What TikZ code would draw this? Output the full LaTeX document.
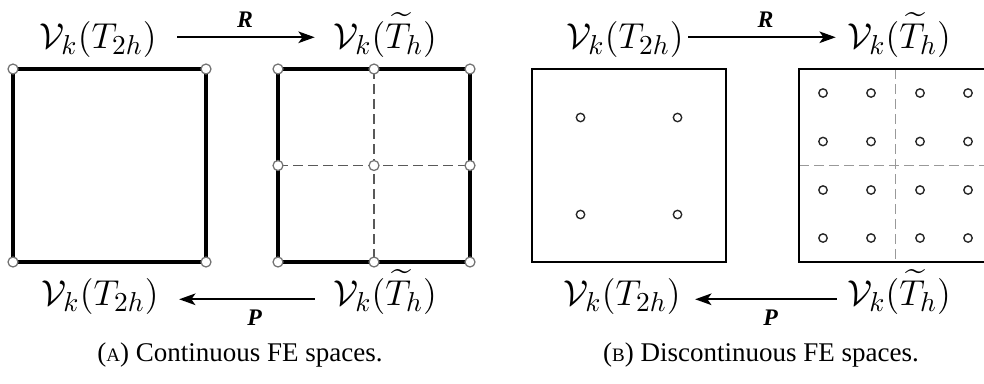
\documentclass[tikz,border=0pt]{standalone}
\usepackage{amsmath}
\usepackage{fontspec}
\setmainfont{Liberation Serif}
\usetikzlibrary{arrows.meta}
\newcommand{\mysc}[1]{{\fontsize{7.6}{9}\selectfont #1}}
\begin{document}
\begin{tikzpicture}[x=0.4pt,y=-0.4pt,
  space/.style={inner sep=0pt, anchor=base, font=\fontsize{15}{17}\selectfont},
  maparrow/.style={line width=0.95pt, -{Stealth[length=6.5pt,width=4.6pt,inset=1.6pt]}},
  maplabel/.style={inner sep=0pt, font=\fontsize{9.5}{11}\selectfont\bfseries\itshape},
  borderA/.style={line width=1.3pt, line cap=round},
  borderB/.style={line width=1.15pt},
  gridA/.style={line width=0.45pt, black!65, dash pattern=on 4pt off 2pt},
  gridB/.style={line width=0.45pt, black!40, dash pattern=on 4pt off 2pt},
  vertexA/.style={draw=black!55, fill=white, line width=0.5pt},
  dofB/.style={draw=black!85, fill=white, line width=0.55pt},
  caption/.style={inner sep=0pt, font=\fontsize{10.8}{12}\selectfont}]
\useasboundingbox (0,0) rectangle (984,383);

% ---------------- Panel A ----------------
\draw[borderA] (13,69) rectangle (206,262);
\draw[gridA] (374,69) -- (374,262);
\draw[gridA] (278,165.5) -- (470,165.5);
\draw[borderA] (278,69) rectangle (470,262);
\foreach \x/\y in {13/69,206/69,13/262,206/262}
  \draw[vertexA] (\x,\y) circle[radius=5];
\foreach \x in {278,374,470}
  \foreach \y in {69,165.5,262}
    \draw[vertexA] (\x,\y) circle[radius=5];

\node[space] (a1) at (98,48) {$\mathcal{V}_k(T_{2h})$};
\node[space] (a2) at (385,48) {$\mathcal{V}_k(\widetilde{T}_h)$};
\node[space] (a3) at (100,305) {$\mathcal{V}_k(T_{2h})$};
\node[space] (a4) at (385,305) {$\mathcal{V}_k(\widetilde{T}_h)$};

\draw[maparrow, shorten <=8pt, shorten >=7.2pt]
  ([yshift=2pt]a1.mid east) -- ([yshift=2pt]a1.mid east -| a2.west)
  node[maplabel, midway, yshift=7.2pt] (lR1) {R};
\draw[maparrow, shorten <=7.2pt, shorten >=8pt]
  (a4.mid west) -- (a4.mid west -| a3.east)
  node[maplabel, pos=0.45, yshift=-7.2pt] (lP1) {P};

\node[caption] (capA) at (240,355) {(\mysc{A}) Continuous FE spaces.};

% ---------------- Panel B ----------------
\draw[borderB] (532,69) rectangle (726,262);
\foreach \x in {580.5,677.5}
  \foreach \y in {117.5,214.5}
    \draw[dofB] (\x,\y) circle[radius=4.2];

\draw[gridB] (895.5,69) -- (895.5,262);
\draw[gridB] (799,165.5) -- (992,165.5);
\draw[borderB] (799,69) rectangle (992,262);
\foreach \x in {823,871,920,968}
  \foreach \y in {93,141.5,190,238}
    \draw[dofB] (\x,\y) circle[radius=4.2];

\node[space] (b1) at (625,48) {$\mathcal{V}_k(T_{2h})$};
\node[space] (b2) at (899,48) {$\mathcal{V}_k(\widetilde{T}_h)$};
\node[space] (b3) at (622,305) {$\mathcal{V}_k(T_{2h})$};
\node[space] (b4) at (899,305) {$\mathcal{V}_k(\widetilde{T}_h)$};

\draw[maparrow, shorten <=1.6pt, shorten >=4.4pt]
  ([yshift=2pt]b1.mid east) -- ([yshift=2pt]b1.mid east -| b2.west)
  node[maplabel, midway, yshift=7.2pt] (lR2) {R};
\draw[maparrow, shorten <=4pt, shorten >=5.6pt]
  (b4.mid west) -- (b4.mid west -| b3.east)
  node[maplabel, pos=0.46, yshift=-7.2pt] (lP2) {P};

\node[caption] (capB) at (761,355) {(\mysc{B}) Discontinuous FE spaces.};
\end{tikzpicture}
\end{document}
